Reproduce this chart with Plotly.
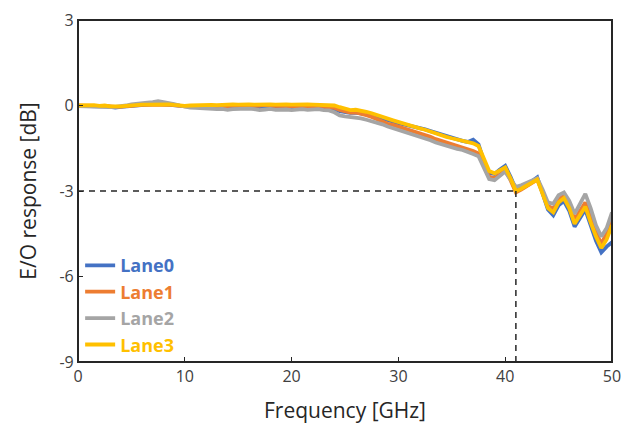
import plotly.graph_objects as go

freq = [i * 0.5 for i in range(101)]

lane0 = [-0.01, -0.02, 0.00, -0.03, -0.03, -0.02, -0.05, -0.07, -0.05, -0.03,
         0.00, 0.02, 0.03, 0.04, 0.05, 0.06, 0.04, 0.03, 0.00, -0.03,
         -0.05, -0.04, -0.06, -0.05, -0.04, -0.06, -0.05, -0.04, -0.06, -0.04,
         -0.05, -0.03, -0.05, -0.06, -0.04, -0.05, -0.07, -0.05, -0.06, -0.04,
         -0.06, -0.05, -0.07, -0.06, -0.05, -0.07, -0.06, -0.08, -0.12, -0.20,
         -0.24, -0.26, -0.25, -0.27, -0.30, -0.34, -0.40, -0.46, -0.52, -0.56,
         -0.62, -0.66, -0.70, -0.74, -0.77, -0.84, -0.90, -0.96, -1.02, -1.08,
         -1.14, -1.20, -1.24, -1.28, -1.20, -1.36, -1.95, -2.36, -2.40, -2.25,
         -2.12, -2.50, -2.95, -2.88, -2.78, -2.66, -2.52, -3.10, -3.65, -3.85,
         -3.50, -3.35, -3.70, -4.25, -3.95, -3.65, -4.20, -4.75, -5.15, -4.95,
         -4.80]

lane1 = [0.00, -0.01, 0.01, -0.01, -0.02, -0.01, -0.04, -0.05, -0.04, -0.02,
         0.00, 0.01, 0.02, 0.02, 0.03, 0.02, 0.02, 0.03, 0.01, -0.02,
         -0.03, -0.02, -0.03, -0.02, -0.01, -0.02, -0.03, -0.01, -0.02, 0.00,
         -0.01, 0.01, -0.02, -0.01, 0.00, 0.02, -0.01, -0.02, 0.00, -0.01,
         -0.02, -0.01, -0.03, -0.02, -0.01, -0.03, -0.02, -0.04, -0.08, -0.16,
         -0.22, -0.25, -0.24, -0.28, -0.34, -0.40, -0.48, -0.56, -0.64, -0.68,
         -0.74, -0.80, -0.86, -0.92, -0.96, -1.02, -1.10, -1.18, -1.24, -1.30,
         -1.36, -1.40, -1.46, -1.52, -1.60, -1.68, -2.10, -2.50, -2.55, -2.40,
         -2.28, -2.62, -3.05, -2.95, -2.82, -2.70, -2.60, -3.05, -3.52, -3.62,
         -3.30, -3.15, -3.50, -4.00, -3.70, -3.40, -3.90, -4.45, -4.85, -4.50,
         -4.05]

lane2 = [-0.02, -0.03, -0.02, -0.04, -0.03, -0.05, -0.06, -0.05, -0.04, 0.00,
         0.04, 0.07, 0.09, 0.10, 0.12, 0.15, 0.12, 0.10, 0.05, 0.00,
         -0.05, -0.07, -0.08, -0.10, -0.12, -0.11, -0.13, -0.12, -0.15, -0.13,
         -0.12, -0.14, -0.11, -0.13, -0.16, -0.14, -0.12, -0.15, -0.13, -0.14,
         -0.16, -0.14, -0.13, -0.15, -0.14, -0.13, -0.16, -0.17, -0.24, -0.35,
         -0.38, -0.40, -0.41, -0.45, -0.50, -0.55, -0.60, -0.66, -0.74, -0.80,
         -0.86, -0.92, -0.98, -1.04, -1.08, -1.14, -1.22, -1.30, -1.36, -1.42,
         -1.46, -1.52, -1.56, -1.62, -1.70, -1.78, -2.20, -2.58, -2.62, -2.45,
         -2.32, -2.60, -2.85, -2.80, -2.72, -2.62, -2.55, -2.95, -3.40, -3.45,
         -3.15, -3.05, -3.35, -3.80, -3.45, -3.10, -3.60, -4.20, -4.60, -4.30,
         -3.75]

lane3 = [0.00, 0.01, 0.00, 0.01, -0.01, 0.00, -0.03, -0.04, -0.03, -0.01,
         0.01, 0.02, 0.03, 0.03, 0.04, 0.04, 0.03, 0.04, 0.02, 0.00,
         -0.01, 0.00, 0.01, 0.00, 0.01, 0.02, 0.01, 0.03, 0.02, 0.04,
         0.03, 0.05, 0.04, 0.03, 0.04, 0.05, 0.04, 0.03, 0.05, 0.04,
         0.03, 0.04, 0.03, 0.04, 0.03, 0.02, 0.03, 0.01, 0.00, -0.06,
         -0.12, -0.16, -0.15, -0.17, -0.22, -0.27, -0.34, -0.42, -0.46, -0.52,
         -0.58, -0.62, -0.68, -0.77, -0.80, -0.85, -0.92, -0.98, -1.05, -1.10,
         -1.15, -1.20, -1.24, -1.28, -1.33, -1.42, -1.90, -2.30, -2.38, -2.28,
         -2.17, -2.55, -3.00, -2.92, -2.82, -2.72, -2.60, -3.10, -3.60, -3.75,
         -3.40, -3.25, -3.60, -4.15, -3.85, -3.55, -4.10, -4.60, -5.00, -4.70,
         -4.20]

names = ["Lane0", "Lane1", "Lane2", "Lane3"]
colors = ["#4472C4", "#ED7D31", "#A5A5A5", "#FFC000"]
series = [lane0, lane1, lane2, lane3]

f3db = 41.0
level_3db = -3.0

x_ticks = [0, 10, 20, 30, 40, 50]
x_labels = ["0", "10", "20", "30", "40", "50"]
y_ticks = [3, 0, -3, -6, -9]
y_labels = ["3", "0", "-3", "-6", "-9"]

fig = go.Figure()
for name, col, vals in zip(names, colors, series):
    fig.add_trace(go.Scatter(
        x=freq, y=vals, mode="lines",
        name=f"<span style='color:{col}'><b>{name}</b></span>",
        line=dict(color=col, width=3.8),
    ))

dash_style = dict(color="#262626", width=1.5, dash="6px,5px")
fig.add_shape(type="line", x0=0, x1=f3db, y0=level_3db, y1=level_3db,
              xref="x", yref="y", line=dash_style)
fig.add_shape(type="line", x0=f3db, x1=f3db, y0=level_3db, y1=-9,
              xref="x", yref="y", line=dash_style)
# plot frame
fig.add_shape(type="rect", x0=0, x1=1, y0=0, y1=1,
              xref="paper", yref="paper", layer="above",
              line=dict(color="#262626", width=2))

axis_common = dict(
    showgrid=False, zeroline=False, showline=True, mirror=True,
    linecolor="#262626", linewidth=1.2, automargin=False,
    ticks="inside", ticklen=5, tickcolor="#262626",
    tickfont=dict(family="Open Sans", size=16, color="#404040"),
)

fig.update_xaxes(range=[0, 50], tickvals=x_ticks, ticktext=x_labels,
                 title=dict(text="Frequency [GHz]", standoff=17,
                            font=dict(family="Open Sans", size=21, color="#262626")),
                 **axis_common)
fig.update_yaxes(range=[-9, 3], tickvals=y_ticks, ticktext=y_labels,
                 title=dict(text="E/O response [dB]", standoff=17,
                            font=dict(family="Open Sans", size=21, color="#262626")),
                 **axis_common)

fig.update_layout(
    width=633, height=430,
    margin=dict(l=78, r=21, t=20, b=68),
    paper_bgcolor="white", plot_bgcolor="white",
    showlegend=True,
    legend=dict(x=0.004, y=0.336, xanchor="left", yanchor="top",
                bgcolor="rgba(0,0,0,0)",
                font=dict(family="Open Sans", size=18),
                itemwidth=30),
)

fig.write_html("out.html",
               config={"displayModeBar": False},
               post_script="document.body.style.margin='0px';")
